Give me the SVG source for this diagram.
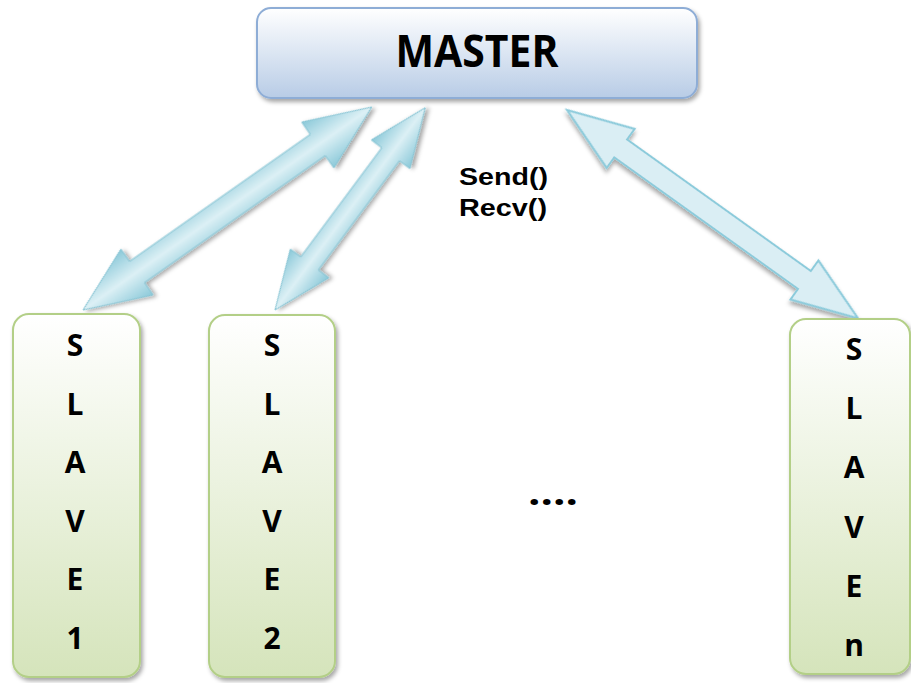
<svg xmlns="http://www.w3.org/2000/svg" width="911" height="683" viewBox="0 0 911 683">
<defs>
<linearGradient id="gMaster" x1="0" y1="0" x2="0" y2="1">
<stop offset="0" stop-color="#ffffff"/>
<stop offset="1" stop-color="#b8cce6"/>
</linearGradient>
<linearGradient id="gSlave" x1="0" y1="0" x2="0" y2="1">
<stop offset="0" stop-color="#ffffff"/>
<stop offset="1" stop-color="#d5e4bb"/>
</linearGradient>
<linearGradient id="gArrow1" gradientUnits="userSpaceOnUse" x1="0" y1="-28" x2="0" y2="28">
<stop offset="0" stop-color="#8bc9d9"/>
<stop offset="0.5" stop-color="#dcf0f5"/>
<stop offset="1" stop-color="#8bc9d9"/>
</linearGradient>
<linearGradient id="gArrow2" gradientUnits="userSpaceOnUse" x1="0" y1="-24" x2="0" y2="24">
<stop offset="0" stop-color="#8bc9d9"/>
<stop offset="0.5" stop-color="#dcf0f5"/>
<stop offset="1" stop-color="#8bc9d9"/>
</linearGradient>
<filter id="sh" x="-10%" y="-10%" width="130%" height="130%">
<feDropShadow dx="2" dy="3" stdDeviation="2" flood-color="#000" flood-opacity="0.35"/>
</filter>
</defs>
<style>
.master{fill:url(#gMaster);stroke:#8eadd6;stroke-width:2;filter:url(#sh)}
.slave{fill:url(#gSlave);stroke:#b3cf87;stroke-width:2;filter:url(#sh)}
.big{font-family:"Open Sans","Liberation Sans",sans-serif;font-weight:bold;fill:#000;text-anchor:middle}
.letter{font-family:"Open Sans","Liberation Sans",sans-serif;font-weight:bold;font-size:30px;fill:#000;text-anchor:middle}
.lbl{font-family:"Liberation Sans",Arial,sans-serif;font-weight:bold;font-size:23px;fill:#000}
.arr{filter:url(#sh)}
</style>
<rect width="911" height="683" fill="#ffffff"/>
<g id="connectors">
<polygon class="arr" transform="translate(83,310) rotate(-35.1)" points="0,0 66,-28 66,-13 287,-13 287,-28 353,0 287,28 287,13 66,13 66,28" fill="url(#gArrow1)" stroke="#86c4d4" stroke-width="1"/>
<polygon class="arr" transform="translate(275,310) rotate(-53.4)" points="0,0 58,-24 58,-11 194,-11 194,-24 252,0 194,24 194,11 58,11 58,24" fill="url(#gArrow2)" stroke="#86c4d4" stroke-width="1"/>
<polygon class="arr" transform="translate(567,110) rotate(35.6)" points="0,0 66,-24 66,-11 292,-11 292,-24 358,0 292,24 292,11 66,11 66,24" fill="#daeef4" stroke="#8ccbdb" stroke-width="2"/>
</g>
<g id="master">
<rect class="master" x="257" y="8" width="440" height="90" rx="14"/>
<text class="big" x="477" y="67" font-size="44" textLength="163" lengthAdjust="spacingAndGlyphs">MASTER</text>
</g>
<g id="label">
<text class="lbl" x="459" y="185" textLength="89" lengthAdjust="spacingAndGlyphs">Send()</text>
<text class="lbl" x="459" y="216" textLength="88" lengthAdjust="spacingAndGlyphs">Recv()</text>
</g>
<g id="slave1">
<rect class="slave" x="13" y="314" width="127" height="363" rx="16"/>
<text class="letter" x="75" y="356">S</text>
<text class="letter" x="75" y="415">L</text>
<text class="letter" x="75" y="473">A</text>
<text class="letter" x="75" y="532">V</text>
<text class="letter" x="75" y="590">E</text>
<text class="letter" x="75" y="649">1</text>
</g>
<g id="slave2">
<rect class="slave" x="209" y="315" width="126" height="362" rx="16"/>
<text class="letter" x="272" y="356">S</text>
<text class="letter" x="272" y="415">L</text>
<text class="letter" x="272" y="473">A</text>
<text class="letter" x="272" y="532">V</text>
<text class="letter" x="272" y="590">E</text>
<text class="letter" x="272" y="649">2</text>
</g>
<g id="slaven">
<rect class="slave" x="790" y="319" width="120" height="355" rx="16"/>
<text class="letter" x="854" y="360">S</text>
<text class="letter" x="854" y="419">L</text>
<text class="letter" x="854" y="478">A</text>
<text class="letter" x="854" y="538">V</text>
<text class="letter" x="854" y="597">E</text>
<text class="letter" x="854" y="656">n</text>
</g>
<g id="ellipsis">
<text class="big" x="553" y="505" font-size="36" textLength="50" lengthAdjust="spacingAndGlyphs">....</text>
</g>
</svg>
